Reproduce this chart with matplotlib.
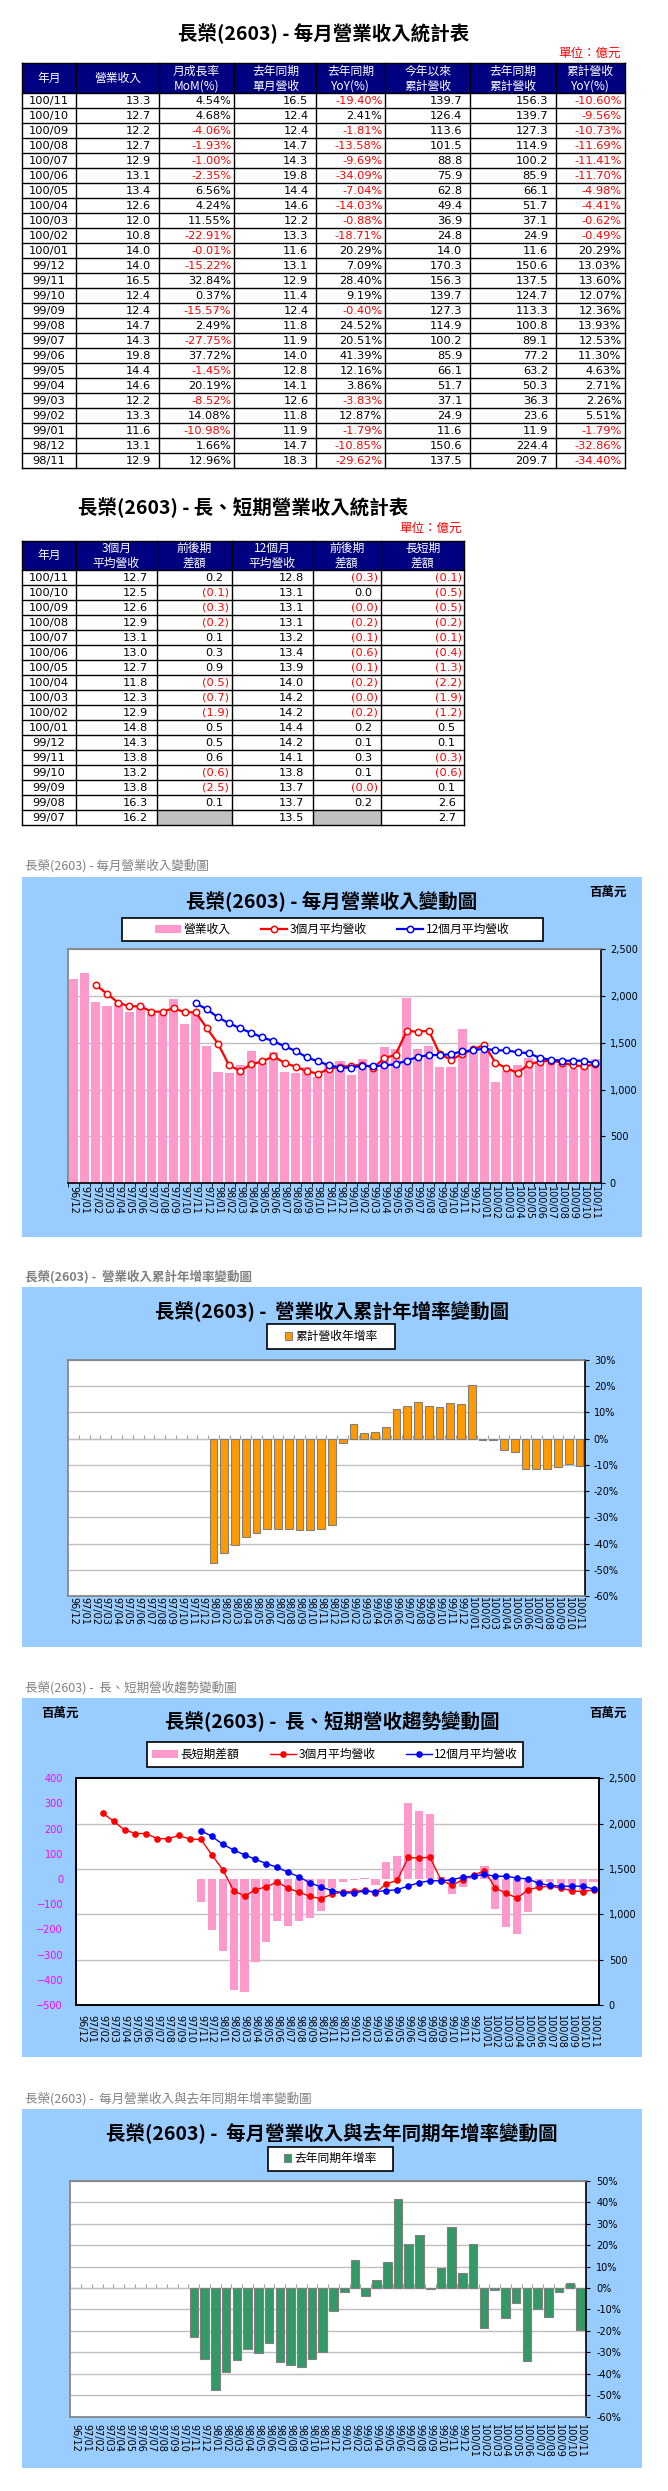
import math
import numpy as np
import matplotlib
matplotlib.use('Agg')
import matplotlib.pyplot as plt
from matplotlib.patches import Rectangle
from matplotlib.ticker import FuncFormatter

W, H = 668, 2491
plt.rcParams['font.family'] = ['DejaVu Sans', 'Noto Sans CJK TC']
CJK = ['Noto Sans CJK TC', 'DejaVu Sans']

PINK = '#FF99CC'
ORANGE = '#FF9900'
GREEN = '#339966'
SKY = '#99CCFF'
NAVY = '#000080'
RED = '#FF0000'
BLUE = '#0000FF'

# ====== Chart data (百萬元 / %) ======
months = ['96/12',
          '97/01', '97/02', '97/03', '97/04', '97/05', '97/06',
          '97/07', '97/08', '97/09', '97/10', '97/11', '97/12',
          '98/01', '98/02', '98/03', '98/04', '98/05', '98/06',
          '98/07', '98/08', '98/09', '98/10', '98/11', '98/12',
          '99/01', '99/02', '99/03', '99/04', '99/05', '99/06',
          '99/07', '99/08', '99/09', '99/10', '99/11', '99/12',
          '100/01', '100/02', '100/03', '100/04', '100/05', '100/06',
          '100/07', '100/08', '100/09', '100/10', '100/11']

revenue = [2183,
           2247, 1937, 1895, 1940, 1830, 1900, 1810, 1820, 1969, 1702, 1833, 1470,
           1190, 1180, 1260, 1410, 1280, 1400, 1190, 1180, 1240, 1140, 1290, 1310,
           1160, 1330, 1220, 1460, 1440, 1980, 1430, 1470, 1240, 1240, 1650, 1400,
           1400, 1080, 1200, 1260, 1340, 1310, 1290, 1270, 1220, 1270, 1330]

# 3-month average, starts 97/02
avg3 = [2115, 2026, 1930, 1891, 1891, 1834, 1834, 1870, 1827, 1827, 1656,
        1492, 1261, 1200, 1271, 1303, 1357, 1286, 1246, 1197, 1172, 1221, 1247,
        1253, 1267, 1237, 1337, 1373, 1627, 1620, 1630, 1380, 1320, 1380, 1430,
        1480, 1290, 1230, 1180, 1270, 1300, 1310, 1290, 1260, 1250, 1270]

# 12-month average, starts 97/11
avg12 = [1923, 1859,
         1773, 1709, 1656, 1606, 1560, 1517, 1464, 1414, 1346, 1303, 1261, 1236,
         1236, 1257, 1250, 1261, 1271, 1311, 1350, 1370, 1370, 1380, 1410, 1420,
         1440, 1420, 1420, 1400, 1390, 1340, 1320, 1310, 1310, 1310, 1280]

# long/short gap (3m - 12m), starts 97/11
gap_ls = [-90, -201,
          -284, -439, -449, -330, -248, -165, -185, -165, -156, -125, -37, -11,
          -4, 4, -24, 69, 91, 302, 270, 260, 10, -60, -30, 10,
          50, -120, -190, -220, -130, -40, -10, -20, -50, -50, -10]

# cumulative YoY %, starts 98/01
cum_yoy = [-47.5, -43.7, -40.7, -37.6, -36.1, -34.6, -34.6, -34.6, -34.9, -34.9, -34.40, -32.86,
           -1.79, 5.51, 2.26, 2.71, 4.63, 11.30, 12.53, 13.93, 12.36, 12.07, 13.60, 13.03,
           20.29, -0.49, -0.62, -4.41, -4.98, -11.70, -11.41, -11.69, -10.73, -9.56, -10.60]

# monthly YoY %, starts 97/11
yoy = [-22.9, -33.2,
       -47.5, -39.2, -33.6, -28.5, -30.4, -25.5, -34.6, -35.8, -36.9, -33.2, -29.62, -10.85,
       -1.79, 12.87, -3.83, 3.86, 12.16, 41.39, 20.51, 24.52, -0.40, 9.19, 28.40, 7.09,
       20.29, -18.71, -0.88, -14.03, -7.04, -34.09, -9.69, -13.58, -1.81, 2.41, -19.40]

# ====== Table 1 data (億元) ======
t1_month = ['100/11', '100/10', '100/09', '100/08', '100/07', '100/06', '100/05',
            '100/04', '100/03', '100/02', '100/01', '99/12', '99/11', '99/10',
            '99/09', '99/08', '99/07', '99/06', '99/05', '99/04', '99/03',
            '99/02', '99/01', '98/12', '98/11']
t1_rev = [13.3, 12.7, 12.2, 12.7, 12.9, 13.1, 13.4, 12.6, 12.0, 10.8, 14.0, 14.0, 16.5,
          12.4, 12.4, 14.7, 14.3, 19.8, 14.4, 14.6, 12.2, 13.3, 11.6, 13.1, 12.9]
t1_mom = [4.54, 4.68, -4.06, -1.93, -1.00, -2.35, 6.56, 4.24, 11.55, -22.91, -0.01,
          -15.22, 32.84, 0.37, -15.57, 2.49, -27.75, 37.72, -1.45, 20.19, -8.52,
          14.08, -10.98, 1.66, 12.96]
t1_ly_rev = [16.5, 12.4, 12.4, 14.7, 14.3, 19.8, 14.4, 14.6, 12.2, 13.3, 11.6, 13.1, 12.9,
             11.4, 12.4, 11.8, 11.9, 14.0, 12.8, 14.1, 12.6, 11.8, 11.9, 14.7, 18.3]
t1_yoy = [-19.40, 2.41, -1.81, -13.58, -9.69, -34.09, -7.04, -14.03, -0.88, -18.71,
          20.29, 7.09, 28.40, 9.19, -0.40, 24.52, 20.51, 41.39, 12.16, 3.86, -3.83,
          12.87, -1.79, -10.85, -29.62]
t1_cum = [139.7, 126.4, 113.6, 101.5, 88.8, 75.9, 62.8, 49.4, 36.9, 24.8, 14.0, 170.3,
          156.3, 139.7, 127.3, 114.9, 100.2, 85.9, 66.1, 51.7, 37.1, 24.9, 11.6, 150.6, 137.5]
t1_ly_cum = [156.3, 139.7, 127.3, 114.9, 100.2, 85.9, 66.1, 51.7, 37.1, 24.9, 11.6, 150.6,
             137.5, 124.7, 113.3, 100.8, 89.1, 77.2, 63.2, 50.3, 36.3, 23.6, 11.9, 224.4, 209.7]
t1_cum_yoy = [-10.60, -9.56, -10.73, -11.69, -11.41, -11.70, -4.98, -4.41, -0.62, -0.49,
              20.29, 13.03, 13.60, 12.07, 12.36, 13.93, 12.53, 11.30, 4.63, 2.71, 2.26,
              5.51, -1.79, -32.86, -34.40]
t1_headers = ['年月', '營業收入', '月成長率\nMoM(%)', '去年同期\n單月營收', '去年同期\nYoY(%)',
              '今年以來\n累計營收', '去年同期\n累計營收', '累計營收\nYoY(%)']

# ====== Table 2 data (億元) ======
t2_month = ['100/11', '100/10', '100/09', '100/08', '100/07', '100/06', '100/05',
            '100/04', '100/03', '100/02', '100/01', '99/12', '99/11', '99/10',
            '99/09', '99/08', '99/07']
t2_avg3 = [12.7, 12.5, 12.6, 12.9, 13.1, 13.0, 12.7, 11.8, 12.3, 12.9, 14.8, 14.3, 13.8,
           13.2, 13.8, 16.3, 16.2]
t2_avg3_diff = [0.2, -0.1, -0.3, -0.2, 0.1, 0.3, 0.9, -0.5, -0.7, -1.9, 0.5, 0.5, 0.6,
                -0.6, -2.5, 0.1, None]
t2_avg12 = [12.8, 13.1, 13.1, 13.1, 13.2, 13.4, 13.9, 14.0, 14.2, 14.2, 14.4, 14.2, 14.1,
            13.8, 13.7, 13.7, 13.5]
t2_avg12_diff = [-0.3, 0.0, -0.0, -0.2, -0.1, -0.6, -0.1, -0.2, -0.0, -0.2, 0.2, 0.1, 0.3,
                 0.1, -0.0, 0.2, None]
t2_gap = [-0.1, -0.5, -0.5, -0.2, -0.1, -0.4, -1.3, -2.2, -1.9, -1.2, 0.5, 0.1, -0.3,
          -0.6, 0.1, 2.6, 2.7]
t2_headers = ['年月', '3個月\n平均營收', '前後期\n差額', '12個月\n平均營收', '前後期\n差額', '長短期\n差額']


def pad(vals):
    return [np.nan] * (len(months) - len(vals)) + list(vals)


# ====== Figure / canvas ======
fig = plt.figure(figsize=(W / 100, H / 100), dpi=100)
cv = fig.add_axes([0, 0, 1, 1])
cv.set_xlim(0, W)
cv.set_ylim(H, 0)
cv.axis('off')


def px_axes(x0, y0, x1, y1):
    return fig.add_axes([x0 / W, 1 - y1 / H, (x1 - x0) / W, (y1 - y0) / H])


# ====== Tables ======
def draw_table(cols, top, head_h, row_h, n_rows, headers, head_y):
    left, right = cols[0], cols[-1]
    bottom = top + head_h + n_rows * row_h
    cv.add_patch(Rectangle((left, top), right - left, head_h, facecolor=NAVY,
                           edgecolor='none'))
    for hdr, c0, c1 in zip(headers, cols[:-1], cols[1:]):
        cx = (c0 + c1) / 2
        lines = hdr.split('\n')
        if len(lines) == 1:
            cv.text(cx, top + head_h / 2, lines[0], ha='center', va='center',
                    color='white', fontsize=8.5, family=CJK)
        else:
            for k, ln in enumerate(lines):
                cv.text(cx, top + head_y[k], ln, ha='center', va='center',
                        color='white', fontsize=8.5, family=CJK)
    for r in range(n_rows + 1):
        y = top + head_h + r * row_h
        cv.plot([left, right], [y, y], color='black', lw=1)
    cv.plot([left, right], [top, top], color='black', lw=1)
    for c in cols:
        cv.plot([c, c], [top, bottom], color='black', lw=1)


def cell(cols, top, head_h, row_h, ci, ri, s, color='black', rpad=None):
    y = top + head_h + (ri + 0.5) * row_h
    if rpad is None:
        cv.text((cols[ci] + cols[ci + 1]) / 2, y, s, ha='center', va='center',
                fontsize=8.2, color=color)
    else:
        cv.text(cols[ci + 1] - rpad, y, s, ha='right', va='center',
                fontsize=8.2, color=color)


# Table 1
cv.text(324, 34, '長榮(2603) - 每月營業收入統計表', ha='center', va='center',
        fontsize=14, fontweight='bold', family=CJK)
cv.text(621, 53, '單位：億元', ha='right', va='center', fontsize=9, color=RED, family=CJK)
T1_COLS = [21.6, 76.4, 158.8, 234.4, 316.4, 385.4, 470.4, 555.9, 624.5]
T1_TOP, T1_HH, T1_RH = 63.3, 30, 15
draw_table(T1_COLS, T1_TOP, T1_HH, T1_RH, len(t1_month), t1_headers, [8.2, 23.2])
for i in range(len(t1_month)):
    c = lambda ci, s, color='black', rpad=None: cell(T1_COLS, T1_TOP, T1_HH, T1_RH,
                                                     ci, i, s, color, rpad)
    c(0, t1_month[i])
    c(1, f'{t1_rev[i]:.1f}', rpad=8)
    c(2, f'{t1_mom[i]:.2f}%', RED if t1_mom[i] < 0 else 'black', rpad=3)
    c(3, f'{t1_ly_rev[i]:.1f}', rpad=8)
    c(4, f'{t1_yoy[i]:.2f}%', RED if t1_yoy[i] < 0 else 'black', rpad=3)
    c(5, f'{t1_cum[i]:.1f}', rpad=8)
    c(6, f'{t1_ly_cum[i]:.1f}', rpad=8)
    c(7, f'{t1_cum_yoy[i]:.2f}%', RED if t1_cum_yoy[i] < 0 else 'black', rpad=3)

# Table 2
cv.text(243, 508, '長榮(2603) - 長、短期營業收入統計表', ha='center', va='center',
        fontsize=14, fontweight='bold', family=CJK)
cv.text(462, 528, '單位：億元', ha='right', va='center', fontsize=9, color=RED, family=CJK)
T2_COLS = [21.7, 75.7, 156.7, 231.7, 312.7, 380.7, 464.3]
T2_TOP, T2_HH, T2_RH = 541, 29.3, 15
draw_table(T2_COLS, T2_TOP, T2_HH, T2_RH, len(t2_month), t2_headers, [7.3, 22.3])


def acct(ci, ri, v):
    if v is None:
        cv.add_patch(Rectangle((T2_COLS[ci], T2_TOP + T2_HH + ri * T2_RH),
                               T2_COLS[ci + 1] - T2_COLS[ci], T2_RH,
                               facecolor='#C0C0C0', edgecolor='none'))
        return
    if math.copysign(1, v) < 0:
        cell(T2_COLS, T2_TOP, T2_HH, T2_RH, ci, ri, f'({abs(v):.1f})', RED, 2.8)
    else:
        cell(T2_COLS, T2_TOP, T2_HH, T2_RH, ci, ri, f'{v:.1f}', 'black', 8.5)


for i in range(len(t2_month)):
    cell(T2_COLS, T2_TOP, T2_HH, T2_RH, 0, i, t2_month[i])
    acct(1, i, t2_avg3[i])
    acct(2, i, t2_avg3_diff[i])
    acct(3, i, t2_avg12[i])
    acct(4, i, t2_avg12_diff[i])
    acct(5, i, t2_gap[i])

# ====== Charts ======
x = np.arange(len(months))


def chart_frame(cap_y, bg_y0, bg_y1, title, title_y, bold_caption=False):
    cv.text(25, cap_y, title, ha='left', va='center', fontsize=9, color='#808080',
            family=CJK, fontweight='bold' if bold_caption else 'normal')
    cv.add_patch(Rectangle((21.6, bg_y0), 641.8 - 21.6, bg_y1 - bg_y0,
                           facecolor=SKY, edgecolor='none'))
    cv.text(332, title_y, title, ha='center', va='center', fontsize=14,
            fontweight='bold', family=CJK)


def legend_box(x0, y0, x1, y1, handles, labels, **kw):
    cv.add_patch(Rectangle((x0, y0), x1 - x0, y1 - y0, facecolor='white',
                           edgecolor='black', lw=1.2))
    fig.legend(handles, labels, loc='center',
               bbox_to_anchor=((x0 + x1) / 2 / W, 1 - (y0 + y1) / 2 / H),
               frameon=False, ncol=len(handles), prop={'family': CJK, 'size': 8.5},
               borderpad=0, **kw)


def style_x(ax, lab_pad, minor=True):
    ax.set_xlim(-0.5, len(months) - 0.5)
    ax.set_xticks(x)
    ax.set_xticklabels(months, rotation=-90, fontsize=7)
    ax.tick_params(axis='x', which='major', length=0, pad=lab_pad)
    if minor:
        ax.set_xticks(np.arange(len(months) + 1) - 0.5, minor=True)
        ax.tick_params(axis='x', which='minor', length=3, direction='out')


def zero_axis(ax):
    lo, hi = ax.get_ylim()
    sec = ax.secondary_xaxis((0 - lo) / (hi - lo))
    sec.set_xticks(np.arange(len(months) + 1) - 0.5)
    sec.tick_params(length=3, color='#A0A0A0', labeltop=False, labelbottom=False)
    for s in sec.spines.values():
        s.set_color('#A0A0A0')


def spine_colors(ax, left, top, right, bottom):
    for k, col in zip(['left', 'top', 'right', 'bottom'], [left, top, right, bottom]):
        ax.spines[k].set_color(col)
        ax.spines[k].set_linewidth(1.2)


# --- Chart 1: monthly revenue ---
t1 = '長榮(2603) - 每月營業收入變動圖'
chart_frame(866, 877.3, 1236.7, t1, 902)
cv.text(608.5, 892.7, '百萬元', ha='center', va='center', fontsize=9,
        fontweight='bold', family=CJK)
ax = px_axes(68.2, 949.3, 600.8, 1183.3)
b1 = ax.bar(x, revenue, width=0.82, color=PINK, zorder=2)
l3, = ax.plot(x, pad(avg3), '-o', color=RED, lw=1.6, ms=4.6, mfc='white', mec=RED,
              mew=1.1, zorder=3)
l12, = ax.plot(x, pad(avg12), '-o', color=BLUE, lw=1.6, ms=4.6, mfc='white', mec=BLUE,
               mew=1.1, zorder=3)
style_x(ax, 2)
ax.set_ylim(0, 2500)
ax.yaxis.tick_right()
ax.set_yticks(np.arange(0, 2501, 500))
ax.yaxis.set_major_formatter(FuncFormatter(lambda v, p: f'{v:,.0f}'))
ax.tick_params(axis='y', length=3, direction='out', labelsize=7, pad=3.5)
ax.grid(axis='y', color='#C0C0C0', lw=1)
ax.set_axisbelow(True)
spine_colors(ax, '#808080', '#808080', 'black', 'black')
legend_box(122, 917.7, 542.5, 941, [b1, l3, l12], ['營業收入', '3個月平均營收', '12個月平均營收'],
           handlelength=2.2, handletextpad=0.2, columnspacing=2.6)

# --- Chart 2: cumulative YoY ---
t2 = '長榮(2603) -  營業收入累計年增率變動圖'
chart_frame(1276.7, 1287.3, 1647.3, t2, 1311.7, bold_caption=True)
ax = px_axes(68.2, 1360, 584.8, 1596)
b2 = ax.bar(x[len(months) - len(cum_yoy):], cum_yoy, width=0.72, color=ORANGE,
            edgecolor='#808080', lw=0.8, zorder=2)
style_x(ax, 1, minor=False)
ax.set_ylim(-60, 30)
ax.set_yticks(np.arange(-60, 31, 10))
ax.yaxis.tick_right()
ax.yaxis.set_major_formatter(FuncFormatter(lambda v, p: f'{v:.0f}%'))
ax.tick_params(axis='y', length=3, direction='out', labelsize=7, pad=3.5)
ax.grid(axis='y', color='#C0C0C0', lw=1)
ax.set_axisbelow(True)
spine_colors(ax, '#808080', '#808080', 'black', '#808080')
zero_axis(ax)
legend_box(266.7, 1324.3, 395.3, 1349.3, [b2], ['累計營收年增率'],
           handlelength=0.65, handleheight=0.65, handletextpad=0.25)

# --- Chart 3: long / short trend ---
t3 = '長榮(2603) -  長、短期營收趨勢變動圖'
chart_frame(1687.3, 1698.3, 2057.3, t3, 1721.7)
cv.text(59.6, 1713.3, '百萬元', ha='center', va='center', fontsize=9,
        fontweight='bold', family=CJK)
cv.text(608.5, 1713.3, '百萬元', ha='center', va='center', fontsize=9,
        fontweight='bold', family=CJK)
ax = px_axes(75.5, 1778.3, 599, 2005)
b3 = ax.bar(x[len(months) - len(gap_ls):], gap_ls, width=0.75, color=PINK, zorder=2)
style_x(ax, 7, minor=False)
ax.set_ylim(-500, 400)
ax.set_yticks(np.arange(-500, 401, 100))
ax.tick_params(axis='y', length=0, labelsize=7, labelcolor='#FF00FF', pad=9)
axr = ax.twinx()
l3b, = axr.plot(x, pad(avg3), '-o', color=RED, lw=1, ms=3.8, zorder=3)
l12b, = axr.plot(x, pad(avg12), '-o', color=BLUE, lw=1, ms=3.8, zorder=3)
axr.set_ylim(0, 2500)
axr.set_yticks(np.arange(0, 2501, 500))
axr.yaxis.set_major_formatter(FuncFormatter(lambda v, p: f'{v:,.0f}'))
axr.tick_params(axis='y', length=3, direction='out', labelsize=7, pad=4)
for v in axr.get_yticks()[1:-1]:
    ax.plot([0, 1], [v, v], transform=axr.get_yaxis_transform(), color='#C0C0C0',
            lw=1, zorder=1)
ax.set_ylim(-500, 400)
spine_colors(ax, 'black', 'black', 'black', 'black')
spine_colors(axr, 'black', 'black', 'black', 'black')
legend_box(147, 1742.3, 523, 1766.7, [b3, l3b, l12b], ['長短期差額', '3個月平均營收', '12個月平均營收'],
           handlelength=2.2, handletextpad=0.2, columnspacing=2.6)

# --- Chart 4: monthly YoY ---
t4 = '長榮(2603) -  每月營業收入與去年同期年增率變動圖'
chart_frame(2099, 2109, 2468.3, t4, 2133.3)
ax = px_axes(70.3, 2180.7, 586, 2416.7)
b4 = ax.bar(x[len(months) - len(yoy):], yoy, width=0.8, color=GREEN,
            edgecolor='#808080', lw=0.8, zorder=2)
style_x(ax, 5.5, minor=False)
ax.set_ylim(-60, 50)
ax.set_yticks(np.arange(-60, 51, 10))
ax.yaxis.tick_right()
ax.yaxis.set_major_formatter(FuncFormatter(lambda v, p: f'{v:.0f}%'))
ax.tick_params(axis='y', length=3, direction='out', labelsize=7, pad=4.5)
ax.grid(axis='y', color='#C0C0C0', lw=1)
ax.set_axisbelow(True)
spine_colors(ax, '#808080', '#808080', 'black', '#808080')
zero_axis(ax)
legend_box(267.6, 2146.7, 392.7, 2170.7, [b4], ['去年同期年增率'],
           handlelength=0.65, handleheight=0.65, handletextpad=0.25)

fig.savefig('out.png', dpi=100)
